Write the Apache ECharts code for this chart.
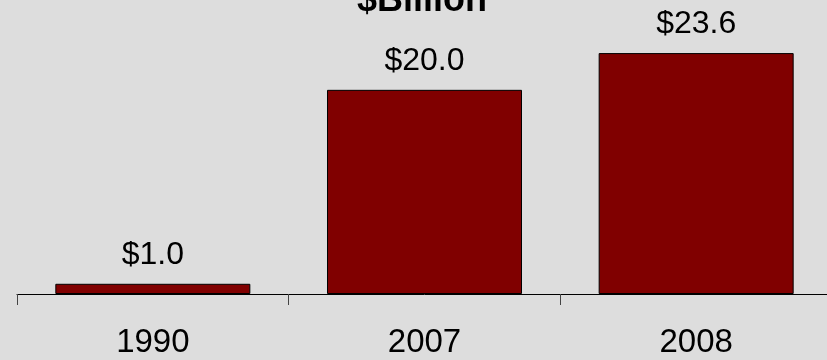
<!DOCTYPE html>
<html>
<head>
<meta charset="utf-8">
<script src="https://cdn.jsdelivr.net/npm/echarts@6/dist/echarts.min.js"></script>
<style>
	html, body { margin: 0; padding: 0; background: #dddddd; overflow: hidden; }
	#chart { width: 832px; height: 360px; }
</style>
</head>
<body>
<div id="chart"></div>
<script>
var years = ['1990', '2007', '2008'];
var billions = [1.0, 20.0, 23.6];
var titleText = '$Billion';

// the axis runs past the right edge of the page, so the div is a bit wider than the window
var myChart = echarts.init(document.getElementById('chart'));

var option = {
	backgroundColor: '#dddddd',
	animation: false,
	title: {
		text: titleText,
		left: 352,
		top: -22,
		textStyle: {
			fontFamily: 'Liberation Sans, Arial, sans-serif',
			fontWeight: 'bold',
			fontSize: 36,
			color: '#000'
		}
	},
	grid: {
		left: 17,
		right: 0,
		top: 0,
		bottom: 66,
		containLabel: false
	},
	xAxis: {
		type: 'category',
		data: years,
		axisLine: { lineStyle: { color: '#000', width: 1 } },
		axisTick: { show: true, length: 11, lineStyle: { color: '#444' } },
		axisLabel: {
			margin: 32,
			fontFamily: 'Liberation Sans, Arial, sans-serif',
			fontSize: 33,
			color: '#000'
		}
	},
	yAxis: {
		type: 'value',
		min: 0,
		max: 28.8,
		show: false,
		splitLine: { show: false }
	},
	series: [{
		type: 'bar',
		data: billions,
		barWidth: 195,
		itemStyle: {
			color: '#800000',
			borderColor: '#000',
			borderWidth: 1
		},
		label: {
			show: true,
			position: 'top',
			distance: 13,
			fontFamily: 'Liberation Sans, Arial, sans-serif',
			fontSize: 32,
			color: '#000',
			formatter: function(p) {
				return '$' + p.value.toFixed(1);
			}
		}
	}]
};

myChart.setOption(option, true);
</script>
</body>
</html>
